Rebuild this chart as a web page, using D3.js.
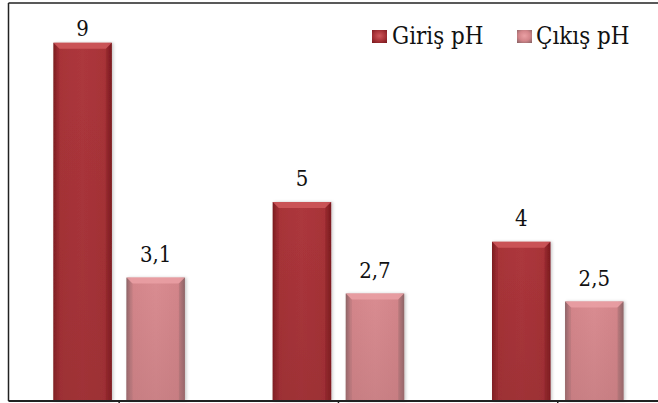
<!DOCTYPE html>
<html>
<head>
<meta charset="utf-8">
<script src="https://cdn.jsdelivr.net/npm/d3@7"></script>
<style>
  html, body { margin: 0; padding: 0; background: #fff; }
  svg { display: block; }
</style>
</head>
<body>
<svg id="chart" width="658" height="403"></svg>
<script>
// Sample groups (not labelled on the axis)
const categories = [1, 2, 3];
const seriesNames = ["Giriş pH", "Çıkış pH"];
const girisValues = [9, 5, 4];
const cikisValues = [3.1, 2.7, 2.5];
const valueLabels = [["9", "5", "4"], ["3,1", "2,7", "2,5"]];

const FONT = "'DejaVu Serif', serif";
const TEXT_SQUEEZE = 0.86;   // narrows the serif face horizontally
const W = 658, H = 403;
const plot = { left: 9.5, top: 3, bottom: 401 };

const svg = d3.select("#chart");
const defs = svg.append("defs");

const palettes = [
  { edge: "#7a1a1f", main: "#a83338", mid: "#ad373c", top: "#cf585c", low: "#8e2a2f" },
  { edge: "#8c6466", main: "#d3858a", mid: "#d98c91", top: "#eaa0a4", low: "#b87478" }
];

palettes.forEach((p, i) => {
  // horizontal shading: darker side edges
  const g = defs.append("linearGradient").attr("id", "bar" + i)
    .attr("x1", 0).attr("x2", 1).attr("y1", 0).attr("y2", 0);
  [[0, p.edge], [0.08, p.main], [0.5, p.mid], [0.9, p.main], [1, p.edge]]
    .forEach(([o, c]) => g.append("stop").attr("offset", o).attr("stop-color", c));
  // vertical shading: slightly darker toward the base
  const gv = defs.append("linearGradient").attr("id", "barV" + i)
    .attr("x1", 0).attr("x2", 0).attr("y1", 0).attr("y2", 1);
  [[0, p.low, 0], [1, p.low, 0.45]]
    .forEach(([o, c, a]) => gv.append("stop").attr("offset", o).attr("stop-color", c).attr("stop-opacity", a));
  const lg = defs.append("radialGradient").attr("id", "leg" + i)
    .attr("cx", 0.5).attr("cy", 0.45).attr("r", 0.7);
  [[0, p.top], [0.55, p.main], [1, p.edge]]
    .forEach(([o, c]) => lg.append("stop").attr("offset", o).attr("stop-color", c));
});

const shadow = defs.append("filter").attr("id", "shadow")
  .attr("x", "-20%").attr("y", "-5%").attr("width", "140%").attr("height", "110%");
shadow.append("feDropShadow").attr("dx", 1.5).attr("dy", 0).attr("stdDeviation", 1.6)
  .attr("flood-color", "#000").attr("flood-opacity", 0.22);

const soft = defs.append("filter").attr("id", "soft");
soft.append("feGaussianBlur").attr("stdDeviation", 0.5);

// Scales
const x0 = d3.scaleBand().domain(categories).range([plot.left, plot.left + 3 * 219.3]).padding(0);
const groupWidth = 131.5;
const x1 = d3.scaleBand().domain(d3.range(seriesNames.length))
  .range([0, groupWidth]).paddingInner(0.2).paddingOuter(0);
const y = d3.scaleLinear().domain([0, 10]).range([plot.bottom, plot.top]);

const series = [girisValues, cikisValues];

function addText(parent, x, yPos, str, size, anchor) {
  return parent.append("text")
    .attr("transform", `translate(${x},${yPos}) scale(${TEXT_SQUEEZE},1)`)
    .attr("text-anchor", anchor)
    .style("font-family", FONT)
    .attr("font-size", size)
    .attr("fill", "#111")
    .text(str);
}

// Frame: top and left lines
svg.append("line").attr("x1", plot.left - 1).attr("x2", W).attr("y1", plot.top).attr("y2", plot.top)
  .attr("stroke", "#222").attr("stroke-width", 1.5);
svg.append("line").attr("x1", plot.left - 1).attr("x2", plot.left - 1).attr("y1", plot.top).attr("y2", plot.bottom)
  .attr("stroke", "#222").attr("stroke-width", 1.5);

// Bars
const barsG = svg.append("g");
const labelsG = svg.append("g");
categories.forEach((c, ci) => {
  const gx = x0(c) + (x0.bandwidth() - groupWidth) / 2;
  series.forEach((vals, si) => {
    const v = vals[ci];
    const bx = gx + x1(si), bw = x1.bandwidth();
    const by = y(v), bh = y(0) - y(v);
    const p = palettes[si];
    const g = barsG.append("g").attr("filter", "url(#soft)");
    g.append("rect").attr("x", bx).attr("y", by).attr("width", bw).attr("height", bh)
      .attr("fill", "url(#bar" + si + ")").attr("filter", "url(#shadow)");
    g.append("rect").attr("x", bx).attr("y", by).attr("width", bw).attr("height", bh)
      .attr("fill", "url(#barV" + si + ")");
    // bevelled top and sides
    const bev = 6;
    g.append("polygon")
      .attr("points", [[bx, by], [bx + bw, by], [bx + bw - bev, by + bev], [bx + bev, by + bev]].map(d => d.join(",")).join(" "))
      .attr("fill", p.top).attr("opacity", 0.85);
    g.append("polygon")
      .attr("points", [[bx, by], [bx + bev, by + bev], [bx + bev, by + bh], [bx, by + bh]].map(d => d.join(",")).join(" "))
      .attr("fill", p.edge).attr("opacity", 0.25);
    g.append("polygon")
      .attr("points", [[bx + bw, by], [bx + bw - bev, by + bev], [bx + bw - bev, by + bh], [bx + bw, by + bh]].map(d => d.join(",")).join(" "))
      .attr("fill", p.edge).attr("opacity", 0.3);
    // value label above the bar
    addText(labelsG, bx + bw / 2, Math.max(by - 16, 36), valueLabels[si][ci], 23, "middle");
  });
});

// Category axis with ticks at group centres
const axis = d3.axisBottom(x0).tickSize(3).tickFormat("");
const axG = svg.append("g").attr("transform", `translate(0,${plot.bottom})`).call(axis);
axG.select(".domain").attr("d", `M${plot.left - 1},0H${W}`).attr("stroke", "#222").attr("stroke-width", 2);
axG.selectAll(".tick line").attr("stroke", "#222").attr("stroke-width", 1.5);

// Legend
const legend = svg.append("g");
const legendPos = [{ sx: 372, tx: 392 }, { sx: 517, tx: 536 }];
seriesNames.forEach((name, i) => {
  legend.append("rect").attr("x", legendPos[i].sx).attr("y", 30).attr("width", 15).attr("height", 13)
    .attr("fill", "url(#leg" + i + ")");
  addText(legend, legendPos[i].tx, 44, name, 25, "start");
});
</script>
</body>
</html>
